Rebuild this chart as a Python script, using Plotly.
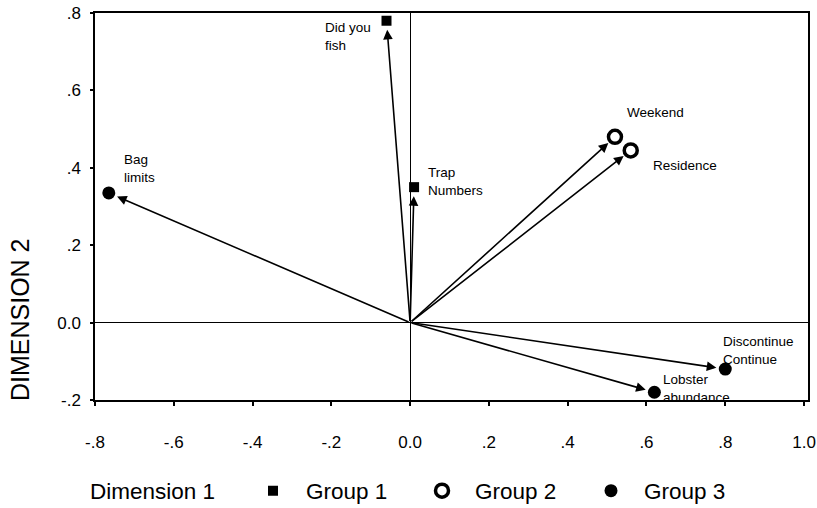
import plotly.graph_objects as go

# ---- data ----
point_labels = ["Did you<br>fish", "Trap<br>Numbers", "Bag<br>limits", "Weekend",
                "Residence", "Discontinue<br>Continue", "Lobster<br>abundance"]
dim1 = [-0.06, 0.01, -0.765, 0.52, 0.56, 0.80, 0.62]
dim2 = [0.78, 0.35, 0.335, 0.48, 0.445, -0.12, -0.18]
group = [1, 1, 3, 2, 2, 3, 3]
group_names = ["Group 1", "Group 2", "Group 3"]
x_ticks = [-0.8, -0.6, -0.4, -0.2, 0.0, 0.2, 0.4, 0.6, 0.8, 1.0]
x_tick_text = ["-.8", "-.6", "-.4", "-.2", "0.0", ".2", ".4", ".6", ".8", "1.0"]
y_ticks = [-0.2, 0.0, 0.2, 0.4, 0.6, 0.8]
y_tick_text = ["-.2", "0.0", ".2", ".4", ".6", ".8"]

# ---- styles ----
FONT = "Liberation Sans, Arial, Helvetica, sans-serif"
group_marker = {
    1: dict(symbol="square", size=10, color="black"),
    2: dict(symbol="circle", size=13, color="white", line=dict(color="black", width=3.5)),
    3: dict(symbol="circle", size=13, color="black"),
}
# label placement relative to marker (xanchor, xshift, yshift)
label_pos = [("right", -14, -16), ("left", 12, 6), ("left", 13, 24), ("left", 10, 24),
             ("left", 20, -15), ("left", -4, 19), ("left", 7, 4)]

fig = go.Figure()

for g, name in zip([1, 2, 3], group_names):
    xs = [x for x, gg in zip(dim1, group) if gg == g]
    ys = [y for y, gg in zip(dim2, group) if gg == g]
    fig.add_trace(go.Scatter(x=xs, y=ys, mode="markers", name=name,
                             marker=group_marker[g], showlegend=True))

annotations = []
# arrows from origin to each point
for x, y in zip(dim1, dim2):
    annotations.append(dict(x=x, y=y, ax=0, ay=0, xref="x", yref="y", axref="x", ayref="y",
                            text="", showarrow=True, arrowhead=2, arrowsize=1.2,
                            arrowwidth=1.6, arrowcolor="black", standoff=9))
# point labels
for lab, x, y, (xa, xs, ys) in zip(point_labels, dim1, dim2, label_pos):
    annotations.append(dict(x=x, y=y, xref="x", yref="y", text=lab, showarrow=False,
                            xanchor=xa, yanchor="middle", xshift=xs, yshift=ys,
                            align="left", font=dict(family=FONT, size=13.5, color="black")))
# axis titles
annotations.append(dict(x=-75 / 713, y=(400 - 320) / 387, xref="paper", yref="paper",
                        text="DIMENSION 2", textangle=-90, showarrow=False,
                        xanchor="center", yanchor="middle",
                        font=dict(family=FONT, size=25, color="black")))
annotations.append(dict(x=(88 - 95) / 713, y=-(491 - 400) / 387, xref="paper", yref="paper",
                        text="Dimension 1", showarrow=False, xanchor="left", yanchor="middle",
                        font=dict(family=FONT, size=22.5, color="black")))

fig.update_layout(
    width=817, height=508,
    margin=dict(l=95, r=9, t=13, b=108, autoexpand=False),
    paper_bgcolor="white", plot_bgcolor="white",
    font=dict(family=FONT, color="black"),
    annotations=annotations,
    showlegend=True,
    legend=dict(orientation="h", x=(240 - 95) / 713, y=-(491 - 400) / 387,
                xanchor="left", yanchor="middle",
                itemwidth=56,
                entrywidth=98, entrywidthmode="pixels",
                font=dict(family=FONT, size=22.5, color="black"),
                bgcolor="rgba(0,0,0,0)", borderwidth=0),
)
fig.update_xaxes(range=[-0.8, 1.01], tickvals=x_ticks, ticktext=x_tick_text,
                 showgrid=False, zeroline=True, zerolinecolor="black", zerolinewidth=1.2,
                 showline=True, mirror=True, linecolor="black", linewidth=1.5,
                 ticks="outside", ticklen=4, tickcolor="black", tickwidth=2,
                 ticklabelstandoff=22, ticklabeloverflow="allow",
                 tickfont=dict(family=FONT, size=17, color="black"))
fig.update_yaxes(range=[-0.2, 0.8], tickvals=y_ticks, ticktext=y_tick_text,
                 showgrid=False, zeroline=True, zerolinecolor="black", zerolinewidth=1.2,
                 showline=True, mirror=True, linecolor="black", linewidth=1.5,
                 ticks="outside", ticklen=3, tickcolor="black", tickwidth=2,
                 ticklabelstandoff=6, ticklabeloverflow="allow",
                 tickfont=dict(family=FONT, size=17, color="black"))

# remove the default 8px page margin so the 817x508 figure fills the window exactly
fig.write_html("out.html", config={"displayModeBar": False},
               post_script="document.body.style.margin='0';document.body.style.overflow='hidden';")
